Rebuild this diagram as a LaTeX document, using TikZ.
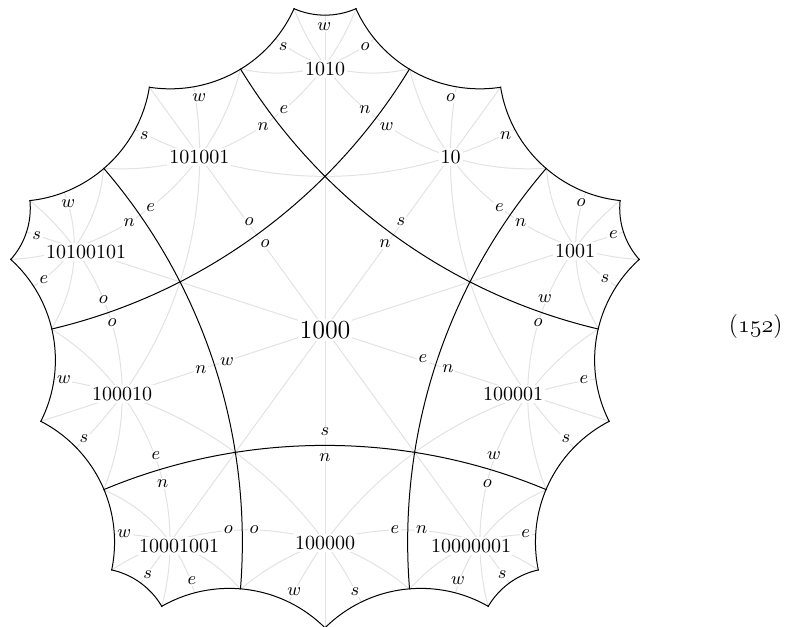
\documentclass[tikz,border=0pt]{standalone}
\usepackage{tikz}
\usetikzlibrary{calc}
\definecolor{mirrorgray}{HTML}{E2E2E2}

\begin{document}
\begin{tikzpicture}[
  x=0.5pt, y=0.5pt,
  mirror/.style={draw=mirrorgray, line width=0.5pt},
  seam/.style={draw=black, line width=0.5pt},
  rim/.style={draw=black, line width=1pt},
  side/.style={fill=white, inner sep=0.8pt, font=\fontsize{9.5}{11}\selectfont},
  word/.style={fill=white, inner sep=1pt},
]
  \useasboundingbox (0,0) rectangle (786,626);
  \coordinate (O) at (325,297);

  \begin{scope}
    % keep to the disc and to the outside of every rim geodesic
    \clip (O) circle[radius=383.5];
    \foreach \a/\c/\s in {90/391.10/76.75, 112.386/406.69/135.36, 67.614/406.69/135.36}
      \foreach \k in {0,...,4}
        \clip (-1000,-1000) -- (2000,-1000) -- (2000,2000) -- (-1000,2000) -- cycle
          ($(O)+({\a+72*\k}:\c)+(\s,0)$) arc[start angle=0, end angle=-360, radius=\s];

    % mirror lines
    \foreach \a in {18,54,90,126,162}
      \draw[mirror] ($(O)+(\a:383.5)$) -- ($(O)+({\a+180}:383.5)$);
    \foreach \a/\c/\s in {90/558.13/405.50, 116.27/458.13/250.61, 63.73/458.13/250.61,
                          96.645/413.60/154.89, 83.355/413.60/154.89}
      \foreach \k in {0,...,4}
        \draw[mirror] ($(O)+({\a+72*\k}:\c)$) circle[radius=\s];

    % side letters
    \foreach \x/\y/\t [count=\i] in {
        324.3/599.3/w, 283.3/579.3/s, 365/579.3/o, 284/516/e, 365/516/n,
        199.3/528.3/w, 144.3/490.7/s, 263.3/499.3/n, 150.7/418.7/e, 249/404/o,
        450.7/528.3/o, 505.7/490.7/n, 386.7/499.3/w, 499.3/418.7/e, 401/404/s,
        68.3/422.7/w, 129.3/403.3/n, 36.7/390/s, 44/346/e, 103.3/326/o,
        581/423.3/o, 520.7/403.3/n, 613.3/391/e, 605/347/s, 545/327.7/w,
        265/382/o, 385/382/n, 227/264/w, 423/267/e, 325/194/s,
        112/303/o, 64/246/w, 201/256/n, 84/187/s, 156/170/e,
        538/303/o, 448/257/n, 584/246/e, 566/187/s, 494/170/w,
        325/168/n, 254/96/o, 395/96/e, 294.3/34.3/w, 355/34.3/s,
        162.7/142.7/n, 124.3/92/w, 228.3/96/o, 147.7/51.7/s, 192/45/e,
        487.3/142.7/o, 421.7/96/n, 525.7/92/e, 502.3/51.7/s, 458/45/w}
      \node[side] (s\i) at (\x,\y) {$\t$};

    % tile words
    \node[word] (w1010) at (325,557) {1010};
    \node[word] (w101001) at (199.3,468.7) {101001};
    \node[word] (w10) at (450.7,468.7) {10};
    \node[word] (w10100101) at (86,374.3) {10100101};
    \node[word] (w1001) at (575,375) {1001};
    \node[word, font=\fontsize{13}{15}\selectfont] (w1000) at (325,296) {1000};
    \node[word] (w100010) at (122,232) {100010};
    \node[word] (w100001) at (513,232) {100001};
    \node[word] (w100000) at (325,83.3) {100000};
    \node[word] (w10001001) at (179,80) {10001001};
    \node[word] (w10000001) at (471,80) {10000001};

    % black seams
    \foreach \k in {0,...,4}
      \draw[seam] ($(O)+({54+72*\k}:689.88)$) circle[radius=573.47];
    % rim, half of its width is clipped away
    \foreach \a/\c/\s in {90/391.10/76.75, 112.386/406.69/135.36, 67.614/406.69/135.36}
      \foreach \k in {0,...,4}
        \draw[rim] ($(O)+({\a+72*\k}:\c)$) circle[radius=\s];
  \end{scope}

  \node[anchor=base, font=\fontsize{13}{15}\selectfont] (tag) at (755.7,293.5) {$(\mathnormal{152})$};
\end{tikzpicture}
\end{document}
